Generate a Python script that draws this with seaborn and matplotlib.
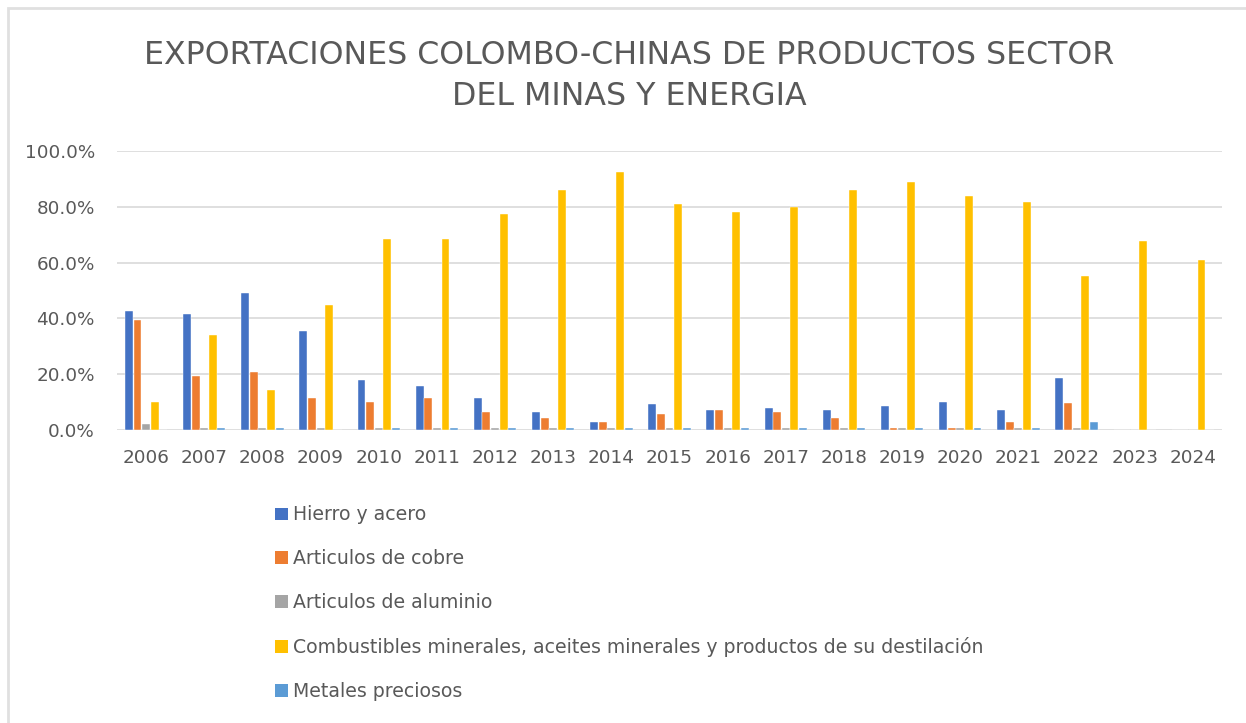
import pandas as pd
import matplotlib.pyplot as plt
import seaborn as sns
from matplotlib.ticker import PercentFormatter
from matplotlib.patches import Patch, Rectangle

# ---------------------------------------------------------------
# Datos (participación en las exportaciones, fracción del total)
# ---------------------------------------------------------------
anios = [str(a) for a in range(2006, 2025)]

series = [
    "Hierro y acero",
    "Articulos de cobre",
    "Articulos de aluminio",
    "Combustibles minerales, aceites minerales y productos de su destilación",
    "Metales preciosos",
]

hierro = [0.427, 0.414, 0.492, 0.356, 0.179, 0.158, 0.115, 0.065, 0.029, 0.093,
          0.073, 0.080, 0.073, 0.086, 0.102, 0.073, 0.187, 0.0, 0.0]
cobre = [0.393, 0.194, 0.208, 0.116, 0.100, 0.116, 0.065, 0.044, 0.029, 0.058,
         0.073, 0.065, 0.044, 0.008, 0.008, 0.030, 0.095, 0.0, 0.0]
aluminio = [0.023, 0.007, 0.007, 0.007, 0.007, 0.007, 0.007, 0.007, 0.007, 0.007,
            0.007, 0.007, 0.007, 0.007, 0.007, 0.007, 0.007, 0.0, 0.0]
combustibles = [0.100, 0.342, 0.143, 0.449, 0.685, 0.685, 0.774, 0.859, 0.924, 0.810,
                0.781, 0.801, 0.859, 0.888, 0.837, 0.817, 0.553, 0.678, 0.608]
metales = [0.0, 0.007, 0.007, 0.0, 0.007, 0.007, 0.007, 0.007, 0.007, 0.007,
           0.007, 0.007, 0.007, 0.007, 0.007, 0.007, 0.030, 0.0, 0.0]

colores = ["#4472C4", "#ED7D31", "#A5A5A5", "#FFC000", "#5B9BD5"]

valores = [hierro, cobre, aluminio, combustibles, metales]
df = pd.DataFrame(
    [(anio, serie, v) for serie, vals in zip(series, valores) for anio, v in zip(anios, vals)],
    columns=["anio", "serie", "valor"],
)

# ---------------------------------------------------------------
# Estilo
# ---------------------------------------------------------------
sns.set_theme(style="white")
plt.rcParams["font.family"] = ["DejaVu Sans"]
gris_texto = "#595959"

fig = plt.figure(figsize=(12.46, 7.23), dpi=100)
ax = fig.add_axes([117 / 1246, 1 - 430 / 723, (1222 - 117) / 1246, (430 - 151) / 723])

sns.barplot(data=df, x="anio", y="valor", hue="serie", hue_order=series,
            palette=colores, saturation=1, width=0.74, gap=0.08,
            edgecolor="white", linewidth=0.3, legend=False, ax=ax)

ax.set_ylim(0, 1.0)
ax.set_yticks([0, 0.2, 0.4, 0.6, 0.8, 1.0])
ax.yaxis.set_major_formatter(PercentFormatter(1.0, decimals=1))
ax.grid(axis="y", color="#D9D9D9", linewidth=1.2)
ax.set_axisbelow(True)
sns.despine(ax=ax, left=True, bottom=True, top=True, right=True)
ax.set_xlabel("")
ax.set_ylabel("")
ax.tick_params(axis="both", length=0, labelsize=13.2, colors=gris_texto)
ax.tick_params(axis="y", pad=16)
ax.tick_params(axis="x", pad=14)

# Título
fig.text(629 / 1246, 1 - 76 / 723,
         "EXPORTACIONES COLOMBO-CHINAS DE PRODUCTOS SECTOR\nDEL MINAS Y ENERGIA",
         ha="center", va="center", fontsize=22.8, color=gris_texto, linespacing=1.45)

# Leyenda
handles = [Patch(facecolor=c, edgecolor="none") for c in colores]
fig.legend(handles, series, loc="upper left", bbox_to_anchor=(266 / 1246, 1 - 496 / 723),
           frameon=False, fontsize=13.6, labelcolor=gris_texto, labelspacing=1.32,
           handlelength=0.65, handleheight=0.65, handletextpad=0.3, borderpad=0)

# Borde del área del gráfico
fig.patches.append(Rectangle((8 / 1246, -0.05), 1.1, 1 - 8 / 723 + 0.05,
                             transform=fig.transFigure, fill=False,
                             edgecolor="#E0E0E0", linewidth=2))

fig.savefig("out.png", dpi=100)
